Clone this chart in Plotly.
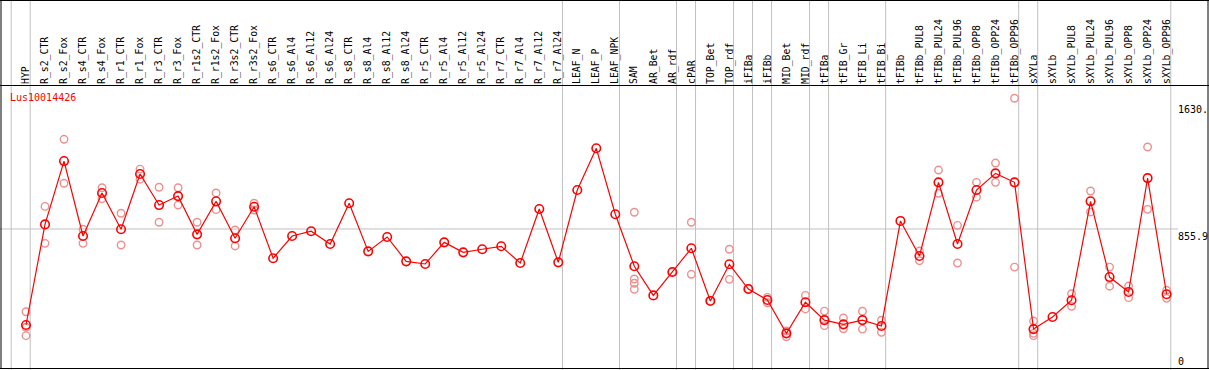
import plotly.graph_objects as go

categories = ["HYP", "R_s2_CTR", "R_s2_Fox", "R_s4_CTR", "R_s4_Fox", "R_r1_CTR", "R_r1_Fox",
              "R_r3_CTR", "R_r3_Fox", "R_r1s2_CTR", "R_r1s2_Fox", "R_r3s2_CTR", "R_r3s2_Fox",
              "R_s6_CTR", "R_s6_Al4", "R_s6_Al12", "R_s6_Al24", "R_s8_CTR", "R_s8_Al4", "R_s8_Al12",
              "R_s8_Al24", "R_r5_CTR", "R_r5_Al4", "R_r5_Al12", "R_r5_Al24", "R_r7_CTR", "R_r7_Al4",
              "R_r7_Al12", "R_r7_Al24", "LEAF_N", "LEAF_P", "LEAF_NPK", "SAM", "AR_Bet", "AR_rdf",
              "cPAR", "TOP_Bet", "TOP_rdf", "iFIBa", "iFIBb", "MID_Bet", "MID_rdf", "tFIBa",
              "tFIB_Gr", "tFIB_Li", "tFIB_Bi", "tFIBb", "tFIBb_PUL8", "tFIBb_PUL24", "tFIBb_PUL96",
              "tFIBb_OPP8", "tFIBb_OPP24", "tFIBb_OPP96", "sXYLa", "sXYLb", "sXYLb_PUL8",
              "sXYLb_PUL24", "sXYLb_PUL96", "sXYLb_OPP8", "sXYLb_OPP24", "sXYLb_OPP96"]

means = [269, 884, 1271, 813, 1076, 854, 1192, 1002, 1057, 823, 1025, 799, 992,
         677, 813, 842, 764, 1013, 719, 807, 658, 642, 774, 713, 732, 750, 648, 978, 652,
         1094, 1349, 946, 628, 450, 593, 738, 416, 640, 489, 422, 218, 408, 299,
         273, 299, 263, 905, 691, 1141, 764, 1094, 1196, 1141, 244, 318, 420,
         1025, 562, 471, 1167, 457]

replicates = {
    "HYP": [350, 255, 204],
    "R_s2_CTR": [994, 768],
    "R_s2_Fox": [1404, 1135],
    "R_s4_CTR": [854, 768],
    "R_s4_Fox": [1108, 1041],
    "R_r1_CTR": [952, 758],
    "R_r1_Fox": [1222, 1160],
    "R_r3_CTR": [1111, 897],
    "R_r3_Fox": [1108, 1002],
    "R_r1s2_CTR": [897, 758],
    "R_r1s2_Fox": [1076, 974],
    "R_r3s2_CTR": [850, 752],
    "R_r3s2_Fox": [1013, 972],
    "SAM": [958, 550, 524, 487],
    "AR_rdf": [593],
    "cPAR": [897, 579],
    "TOP_Bet": [416],
    "TOP_rdf": [732, 548],
    "iFIBa": [489],
    "iFIBb": [438, 405],
    "MID_Bet": [232, 197],
    "MID_rdf": [450, 367],
    "tFIBa": [354, 265],
    "tFIB_Gr": [312, 246],
    "tFIB_Li": [353, 244],
    "tFIB_Bi": [298, 224],
    "tFIBb_PUL8": [721, 662],
    "tFIBb_PUL24": [1216, 1074],
    "tFIBb_PUL96": [878, 648],
    "tFIBb_OPP8": [1141, 1050],
    "tFIBb_OPP24": [1259, 1141],
    "tFIBb_OPP96": [1655, 623],
    "sXYLa": [293, 218, 204],
    "sXYLb_PUL8": [460, 383],
    "sXYLb_PUL24": [1088, 960],
    "sXYLb_PUL96": [623, 506],
    "sXYLb_OPP8": [507, 436],
    "sXYLb_OPP24": [1357, 976],
    "sXYLb_OPP96": [481, 432],
}

group_ends = ["HYP", "R_r7_Al24", "LEAF_NPK", "AR_rdf", "cPAR", "TOP_rdf", "iFIBa", "iFIBb",
              "MID_rdf", "tFIBa", "tFIB_Bi", "tFIBb_OPP96", "sXYLa", "sXYLb_OPP96"]

y_tick_vals = [0, 855.9, 1630]
y_tick_text = ["0", "855.9", "1630."]
title_text = "Lus10014426"

W, H = 1209, 370
FONT = "DejaVu Sans Mono"

rep_x, rep_y = [], []
for c, vals in replicates.items():
    for v in vals:
        rep_x.append(c)
        rep_y.append(v)

fig = go.Figure()
fig.add_trace(go.Scatter(
    x=rep_x, y=rep_y, mode="markers",
    marker=dict(symbol="circle-open", size=7.5, color="#EE9090", line=dict(width=1.4, color="#EE9090")),
    hoverinfo="skip", showlegend=False))
fig.add_trace(go.Scatter(
    x=categories, y=means, mode="lines+markers",
    line=dict(color="#FF0000", width=1.2),
    marker=dict(symbol="circle-open", size=8.5, color="#FF0000", line=dict(width=1.6, color="#FF0000")),
    showlegend=False))

px_per_cat = 19.01
x0_px = 26.0
x_range = [-x0_px / px_per_cat, (W - x0_px) / px_per_cat]
y_bottom_px, y_top_px = 369.0, 85.0
units_per_px = 6.1125
y_range = [0, (y_bottom_px - y_top_px) * units_per_px]

def py(p):
    return 1 - p / H

def px(p):
    return p / W

shapes = []
# group separators
idx = [-1] + [categories.index(g) for g in group_ends]
for k in idx:
    shapes.append(dict(type="line", xref="x", yref="paper", x0=k + 0.22, x1=k + 0.22,
                       y0=0, y1=1, line=dict(color="#C0C0C0", width=1), layer="below"))
# horizontal gridline
shapes.append(dict(type="line", xref="paper", yref="y", x0=0, x1=px(1178), y0=855.9, y1=855.9,
                   line=dict(color="#C0C0C0", width=1), layer="below"))
# borders
for yy in [0.5, 85.5, 368.5]:
    shapes.append(dict(type="line", xref="paper", yref="paper", x0=0, x1=1, y0=py(yy), y1=py(yy),
                       line=dict(color="black", width=1)))
for xx in [1.0, 1208.0]:
    shapes.append(dict(type="line", xref="paper", yref="paper", x0=px(xx), x1=px(xx), y0=py(369), y1=1,
                       line=dict(color="black", width=1)))

annotations = [dict(text=title_text, xref="paper", yref="paper", x=px(8), y=py(90),
                    xanchor="left", yanchor="top", showarrow=False,
                    font=dict(family=FONT, size=10, color="#FF0000"))]
for v, t in zip(y_tick_vals, y_tick_text):
    annotations.append(dict(text=t, xref="paper", yref="y", x=px(1176), y=v,
                            xanchor="left", yanchor="bottom" if v == 0 else "top",
                            showarrow=False, font=dict(family=FONT, size=10, color="black")))

fig.update_layout(
    width=W, height=H, margin=dict(l=0, r=0, t=0, b=0),
    paper_bgcolor="white", plot_bgcolor="white",
    xaxis=dict(type="category", categoryorder="array", categoryarray=categories,
               range=x_range, side="top", tickangle=-90, showgrid=False, zeroline=False,
               showline=False, ticks="", ticklabelstandoff=0,
               tickfont=dict(family=FONT, size=9.8, color="black")),
    yaxis=dict(range=y_range, domain=[py(y_bottom_px), py(y_top_px)], showgrid=False,
               zeroline=False, showticklabels=False, showline=False, ticks=""),
    shapes=shapes, annotations=annotations,
)

fig.write_html("out.html", config={"displayModeBar": False},
               post_script="document.body.style.margin='0';document.body.style.overflow='hidden';")
